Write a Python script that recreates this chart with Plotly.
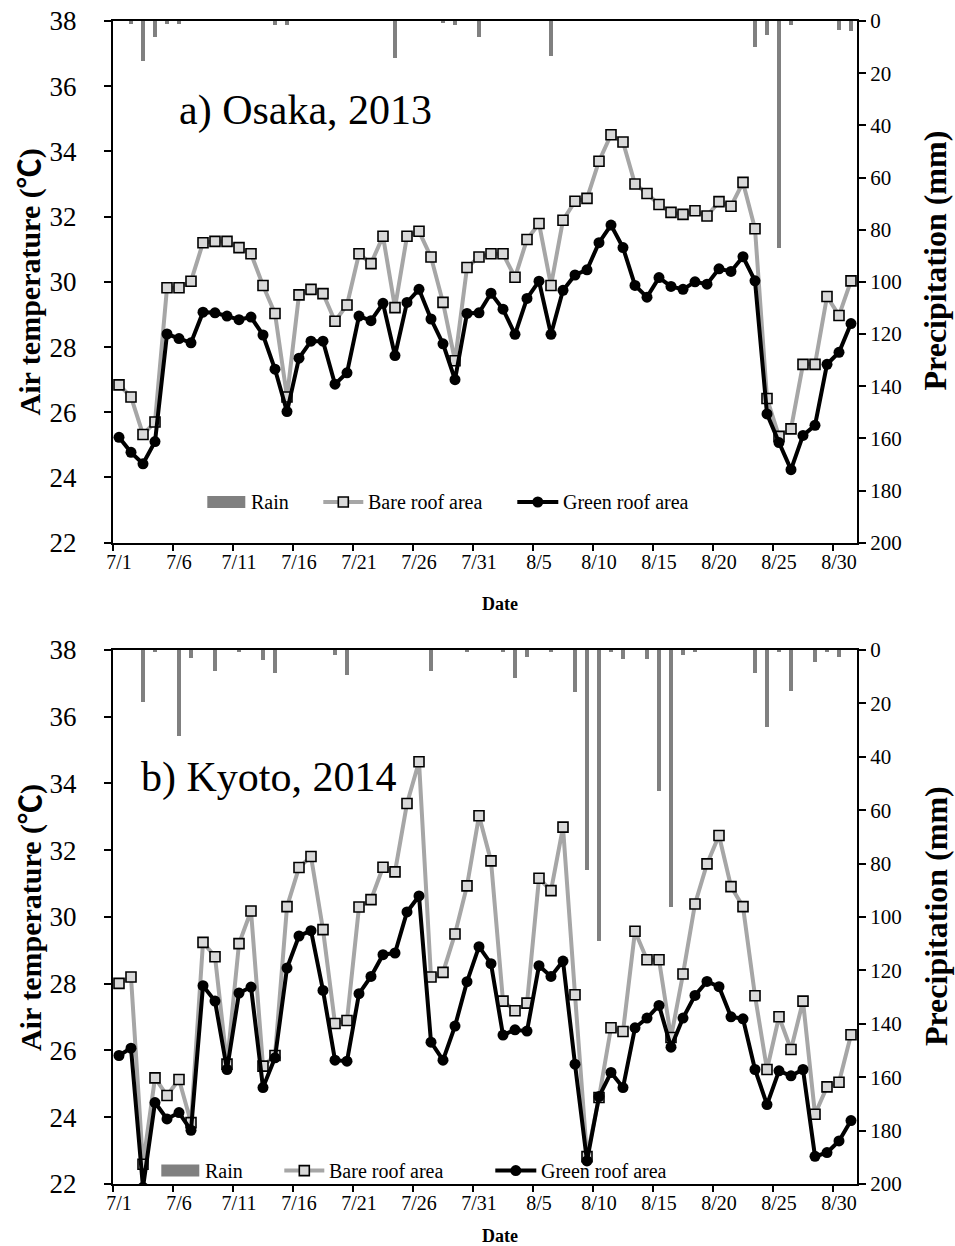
import plotly.graph_objects as go

# ---------------- data ----------------
dates = [f"7/{d}" for d in range(1, 32)] + [f"8/{d}" for d in range(1, 32)]

osaka_bare = [26.84, 26.47, 25.32, 25.70, 29.82, 29.82, 30.02, 31.20, 31.24, 31.24,
              31.05, 30.86, 29.89, 29.03, 26.47, 29.60, 29.77, 29.64, 28.79, 29.29,
              30.86, 30.56, 31.40, 29.21, 31.40, 31.55, 30.76, 29.37, 27.58, 30.44,
              30.76, 30.86, 30.86, 30.14, 31.30, 31.79, 29.89, 31.89, 32.47, 32.56,
              33.70, 34.51, 34.29, 33.00, 32.71, 32.37, 32.13, 32.07, 32.18, 32.02,
              32.46, 32.32, 33.05, 31.63, 26.42, 25.26, 25.49, 27.47, 27.47, 29.55,
              28.97, 30.03]
osaka_green = [25.23, 24.77, 24.42, 25.10, 28.40, 28.26, 28.13, 29.07, 29.05, 28.95,
               28.84, 28.92, 28.37, 27.32, 26.02, 27.66, 28.18, 28.18, 26.86, 27.21,
               28.95, 28.81, 29.34, 27.74, 29.37, 29.77, 28.86, 28.10, 27.00, 29.03,
               29.05, 29.65, 29.16, 28.39, 29.49, 30.02, 28.39, 29.74, 30.21, 30.37,
               31.20, 31.74, 31.05, 29.89, 29.53, 30.13, 29.86, 29.77, 30.00, 29.93,
               30.40, 30.32, 30.77, 30.03, 25.95, 25.07, 24.24, 25.29, 25.60, 27.47,
               27.84, 28.72]
osaka_rain = [0, 1.0, 15.4, 6.3, 1.0, 1.0, 0, 0, 0, 0,
              0, 0, 0, 1.5, 1.5, 0, 0, 0, 0, 0,
              0, 0, 0, 14.2, 0, 0, 0, 0.5, 1.5, 0,
              6.3, 0, 0, 0, 0, 0, 13.6, 0, 0, 0,
              0, 0, 0, 0, 0, 0, 0, 0, 0, 0,
              0, 0, 0, 9.9, 5.5, 87.0, 1.5, 0, 0, 0,
              3.3, 4.0]

kyoto_bare = [28.01, 28.20, 22.59, 25.18, 24.65, 25.13, 23.84, 29.24, 28.81, 25.59,
              29.20, 30.18, 25.53, 25.85, 30.31, 31.48, 31.81, 29.62, 26.81, 26.90,
              30.30, 30.52, 31.49, 31.35, 33.40, 34.65, 28.20, 28.34, 29.49, 30.93,
              33.03, 31.68, 27.48, 27.19, 27.42, 31.16, 30.79, 32.69, 27.67, 22.82,
              24.59, 26.68, 26.57, 29.57, 28.72, 28.72, 26.39, 28.29, 30.39, 31.59,
              32.44, 30.91, 30.31, 27.64, 25.43, 27.01, 26.03, 27.48, 24.09, 24.91,
              25.05, 26.47]
kyoto_green = [25.85, 26.07, 21.90, 24.44, 23.95, 24.14, 23.61, 27.94, 27.48, 25.43,
               27.72, 27.90, 24.89, 25.78, 28.47, 29.43, 29.59, 27.80, 25.71, 25.68,
               27.70, 28.22, 28.87, 28.92, 30.15, 30.63, 26.25, 25.71, 26.73, 28.06,
               29.11, 28.60, 26.46, 26.62, 26.58, 28.54, 28.22, 28.68, 25.59, 22.69,
               24.62, 25.34, 24.89, 26.68, 26.97, 27.35, 26.10, 26.97, 27.65, 28.07,
               27.91, 27.01, 26.95, 25.43, 24.38, 25.39, 25.24, 25.43, 22.83, 22.94,
               23.29, 23.90]
kyoto_rain = [0, 0, 19.6, 0.5, 0, 32.3, 2.9, 0, 8.0, 0,
              0.7, 0, 3.6, 8.6, 0, 0, 0, 0, 1.9, 9.2,
              0, 0, 0, 0, 0, 0, 8.0, 0, 0, 0.7,
              0, 0, 0.5, 10.3, 2.5, 0, 0.7, 0, 15.6, 82.4,
              109.0, 0.7, 3.2, 0, 3.2, 52.8, 96.2, 2.0, 0.7, 0,
              0, 0, 0, 8.6, 28.7, 0.7, 15.2, 0, 4.5, 0.7,
              2.5, 0]

temp_ticks = [22, 24, 26, 28, 30, 32, 34, 36, 38]
rain_ticks = [0, 20, 40, 60, 80, 100, 120, 140, 160, 180, 200]
label_step = 5

# ---------------- page geometry (pixels) ----------------
W, H = 955, 1246
ML, MR, MT, MB = 112.7, 98.3, 20.7, 61.6
PW, PH = W - ML - MR, H - MT - MB
TOP_PANEL = (20.7, 542.7)      # pixel rows of the upper plot area
BOT_PANEL = (650.0, 1184.4)    # pixel rows of the lower plot area


def fx(px):
    return (px - ML) / PW


def fy(py):
    return 1 - (py - MT) / PH


FONT = "Liberation Serif, Times New Roman, Noto Serif CJK JP, Noto Sans CJK JP, serif"
CJK = "Noto Sans CJK JP"
BARE_LINE = "#a6a6a6"
BARE_FILL = "#d9d9d9"
RAIN_COLOR = "#808080"

idx = list(range(len(dates)))
label_pos = idx[::label_step]
label_txt = dates[::label_step]
bound_pos = [p - 0.5 for p in label_pos]

fig = go.Figure()

panels = [
    dict(rain=osaka_rain, bare=osaka_bare, green=osaka_green,
         x="x", yr="y", yt="y2"),
    dict(rain=kyoto_rain, bare=kyoto_bare, green=kyoto_green,
         x="x2", yr="y3", yt="y4"),
]

for p in panels:
    fig.add_trace(go.Bar(x=idx, y=p["rain"], xaxis=p["x"], yaxis=p["yr"],
                         marker=dict(color=RAIN_COLOR, line=dict(width=0)),
                         width=0.34, name="Rain", showlegend=False))
    fig.add_trace(go.Scatter(x=idx, y=p["bare"], xaxis=p["x"], yaxis=p["yt"],
                             mode="lines+markers", name="Bare roof area",
                             line=dict(color=BARE_LINE, width=4),
                             marker=dict(symbol="square", size=10, color=BARE_FILL,
                                         line=dict(color="black", width=1.6)),
                             showlegend=False))
    fig.add_trace(go.Scatter(x=idx, y=p["green"], xaxis=p["x"], yaxis=p["yt"],
                             mode="lines+markers", name="Green roof area",
                             line=dict(color="black", width=4),
                             marker=dict(symbol="circle", size=11, color="black"),
                             showlegend=False))

axis_line = dict(showline=True, linecolor="black", linewidth=2, zeroline=False,
                 showgrid=False)

xcommon = dict(range=[-0.5, len(dates) - 0.5], tickmode="array", tickvals=label_pos,
               ticktext=label_txt, ticks="", mirror=True,
               tickfont=dict(family=FONT, size=20, color="black"),
               minor=dict(tickmode="array", tickvals=bound_pos, ticks="outside",
                          ticklen=6, tickwidth=1.6, tickcolor="black"),
               **axis_line)

ytemp = dict(range=[temp_ticks[0], temp_ticks[-1]], tickmode="array", tickvals=temp_ticks,
             ticks="outside", ticklen=7, tickwidth=1.6, tickcolor="black",
             tickfont=dict(family=FONT, size=27, color="black"), side="left",
             ticklabelstandoff=22, **axis_line)
yrain = dict(range=[rain_ticks[-1], rain_ticks[0]], tickmode="array", tickvals=rain_ticks,
             ticks="outside", ticklen=7, tickwidth=1.6, tickcolor="black",
             tickfont=dict(family=FONT, size=21, color="black"), side="right",
             **axis_line)

top_dom = [fy(TOP_PANEL[1]), fy(TOP_PANEL[0])]
bot_dom = [fy(BOT_PANEL[1]), fy(BOT_PANEL[0])]

fig.update_layout(
    width=W, height=H, autosize=False,
    margin=dict(l=ML, r=MR, t=MT, b=MB, autoexpand=False),
    paper_bgcolor="white", plot_bgcolor="rgba(0,0,0,0)",
    showlegend=False, bargap=0,
    xaxis=dict(domain=[0, 1], anchor="y", **xcommon),
    yaxis=dict(domain=top_dom, anchor="x", **yrain),
    yaxis2=dict(overlaying="y", anchor="x", **ytemp),
    xaxis2=dict(domain=[0, 1], anchor="y3", **xcommon),
    yaxis3=dict(domain=bot_dom, anchor="x2", **yrain),
    yaxis4=dict(overlaying="y3", anchor="x2", **ytemp),
)

shapes = []
annotations = []


def text(px, py, s, size, bold=False, angle=0, xanchor="center"):
    annotations.append(dict(
        x=fx(px), y=fy(py), xref="paper", yref="paper", showarrow=False,
        text=f"<b>{s}</b>" if bold else s, textangle=angle,
        xanchor=xanchor, yanchor="middle",
        font=dict(family=FONT, size=size, color="black")))


def legend(y, rain_x, bare_x, green_x):
    # rain swatch
    shapes.append(dict(type="rect", xref="paper", yref="paper",
                       x0=fx(rain_x), x1=fx(rain_x + 38), y0=fy(y + 6), y1=fy(y - 6),
                       fillcolor=RAIN_COLOR, line=dict(width=0)))
    text(rain_x + 42, y, "Rain", 20, xanchor="left")
    # bare roof sample
    shapes.append(dict(type="line", xref="paper", yref="paper",
                       x0=fx(bare_x), x1=fx(bare_x + 40), y0=fy(y), y1=fy(y),
                       line=dict(color=BARE_LINE, width=4)))
    shapes.append(dict(type="rect", xref="paper", yref="paper",
                       x0=fx(bare_x + 15), x1=fx(bare_x + 25), y0=fy(y + 5), y1=fy(y - 5),
                       fillcolor=BARE_FILL, line=dict(color="black", width=1.6)))
    text(bare_x + 43, y, "Bare roof area", 20, xanchor="left")
    # green roof sample
    shapes.append(dict(type="line", xref="paper", yref="paper",
                       x0=fx(green_x), x1=fx(green_x + 41), y0=fy(y), y1=fy(y),
                       line=dict(color="black", width=4)))
    shapes.append(dict(type="circle", xref="paper", yref="paper",
                       x0=fx(green_x + 15), x1=fx(green_x + 26), y0=fy(y + 5.5), y1=fy(y - 5.5),
                       fillcolor="black", line=dict(color="black", width=0)))
    text(green_x + 44, y, "Green roof area", 20, xanchor="left")


legend(502, 207, 323, 517)
legend(1171, 161, 284, 495)

# panel titles
text(305, 110, "a) Osaka, 2013", 42)
text(269, 778, "b) Kyoto, 2014", 42)

# axis titles
temp_title = f'Air temperature (<span style="font-family:{CJK}">℃</span>)'
text(27, 282, temp_title, 30, bold=True, angle=-90)
text(935, 260, "Precipitation (mm)", 32, bold=True, angle=-90)
text(27, 918, temp_title, 30, bold=True, angle=-90)
text(935, 916, "Precipitation (mm)", 32, bold=True, angle=-90)
text(500, 604, "Date", 18, bold=True)
text(500, 1236, "Date", 18, bold=True)

fig.update_layout(shapes=shapes, annotations=annotations)

fig.write_html("out.html")
